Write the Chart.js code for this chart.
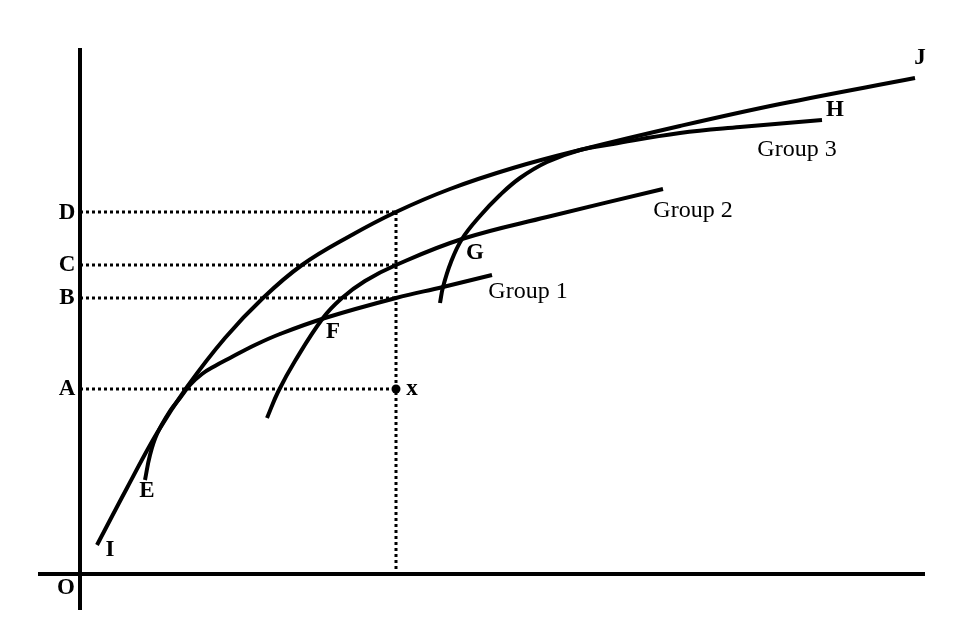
<!DOCTYPE html>
<html>
<head>
<meta charset="utf-8">
<script src="https://cdn.jsdelivr.net/npm/chart.js@4/dist/chart.umd.min.js"></script>
<style>
html,body{margin:0;padding:0;background:#fff;}
#wrap{width:968px;height:632px;}
</style>
</head>
<body>
<div id="wrap"><canvas id="c" width="968" height="632"></canvas></div>
<script>
// ---- data (origin at O) ----
const envelopeX = [17, 47, 77, 107, 145, 183, 222, 270, 316, 370, 433, 500, 600, 700, 835];
const envelopeY = [29, 86, 141, 187, 236, 276, 309, 338, 362, 385, 406, 424, 448, 470, 496];

const group1X = [65, 70, 77, 90, 100, 110, 122, 135, 150, 175, 200, 245, 316, 363, 412];
const group1Y = [94, 119, 140, 163, 176, 189, 200, 208, 216, 229, 240, 256, 276, 287, 299];

const group2X = [187, 198, 215, 243, 262, 285, 316, 382, 467, 583];
const group2Y = [156, 182, 213, 256, 276, 293, 309, 335, 357, 385];

const group3X = [360, 363, 371, 382, 400, 420, 440, 467, 500, 533, 600, 660, 742];
const group3Y = [271, 287, 312, 335, 358, 379, 396, 412, 424, 430, 441, 447, 454];

const levelNames = ['A', 'B', 'C', 'D'];
const levelValues = [185, 276, 309, 362];
const pointX = 316;   // input level of observation x
const pointY = 185;   // output of observation x (= A)

const axisXRange = [-42, 845];
const axisYRange = [-36, 526];

// ---- text labels ----
const labelTexts = ['D', 'C', 'B', 'A', 'O', 'I', 'E', 'F', 'G', 'x', 'Group 1', 'Group 2', 'Group 3', 'H', 'J'];
const labelAt = [[-13,361],[-13,309],[-13,276],[-13,185],[-14,-14],[30,24],[67,83],[253,242],[395,321],[332,185],[448,282],[613,363],[717,424],[755,464],[840,516]];

function pts(xs, ys){ return xs.map((x,i)=>({x:x, y:ys[i]})); }

const curveStyle = {showLine:true, pointRadius:0, borderColor:'#000', borderWidth:4, tension:0.4, fill:false, borderCapStyle:'butt'};
const axisStyle = {showLine:true, pointRadius:0, borderColor:'#000', borderWidth:4, tension:0, fill:false, borderCapStyle:'butt'};
const dotStyle = {showLine:true, pointRadius:0, borderColor:'#000', borderWidth:3, borderDash:[3,3], tension:0, fill:false, borderCapStyle:'butt'};

const datasets = [];
datasets.push(Object.assign({label:'x-axis', data:[{x:axisXRange[0],y:0},{x:axisXRange[1],y:0}]}, axisStyle));
datasets.push(Object.assign({label:'y-axis', data:[{x:0,y:axisYRange[0]},{x:0,y:axisYRange[1]}]}, axisStyle));
levelValues.forEach((v,i)=>{
  datasets.push(Object.assign({label:'level '+levelNames[i], data:[{x:0,y:v},{x:pointX,y:v}]}, dotStyle));
});
datasets.push(Object.assign({label:'vertical', data:[{x:pointX,y:levelValues[3]},{x:pointX,y:0}]}, dotStyle));
datasets.push(Object.assign({label:'Metafrontier', data:pts(envelopeX, envelopeY)}, curveStyle));
datasets.push(Object.assign({label:'Group 1', data:pts(group1X, group1Y)}, curveStyle));
datasets.push(Object.assign({label:'Group 2', data:pts(group2X, group2Y)}, curveStyle));
datasets.push(Object.assign({label:'Group 3', data:pts(group3X, group3Y)}, curveStyle));
datasets.push({label:'x', data:[{x:pointX,y:pointY}], showLine:false, pointRadius:4.5, pointStyle:'circle', backgroundColor:'#000', borderColor:'#000', borderWidth:0});

const labelPlugin = {
  id:'labels',
  afterDatasetsDraw(chart){
    const ctx = chart.ctx, xs = chart.scales.x, ys = chart.scales.y;
    ctx.save();
    ctx.fillStyle = '#000';
    ctx.textAlign = 'center';
    ctx.textBaseline = 'middle';
    labelTexts.forEach((t,i)=>{
      const isGroup = t.indexOf('Group') === 0;
      ctx.font = (isGroup ? '24px' : 'bold 23px') + ' "Liberation Serif", "DejaVu Serif", serif';
      ctx.fillText(t, xs.getPixelForValue(labelAt[i][0]), ys.getPixelForValue(labelAt[i][1]));
    });
    ctx.restore();
  }
};

new Chart(document.getElementById('c'), {
  type:'scatter',
  data:{datasets:datasets},
  options:{
    responsive:false,
    animation:false,
    devicePixelRatio:1,
    layout:{padding:0, autoPadding:false},
    plugins:{legend:{display:false}, tooltip:{enabled:false}},
    scales:{
      x:{type:'linear', min:-80, max:888, display:false},
      y:{type:'linear', min:-58, max:574, display:false}
    }
  },
  plugins:[labelPlugin]
});
</script>
</body>
</html>
